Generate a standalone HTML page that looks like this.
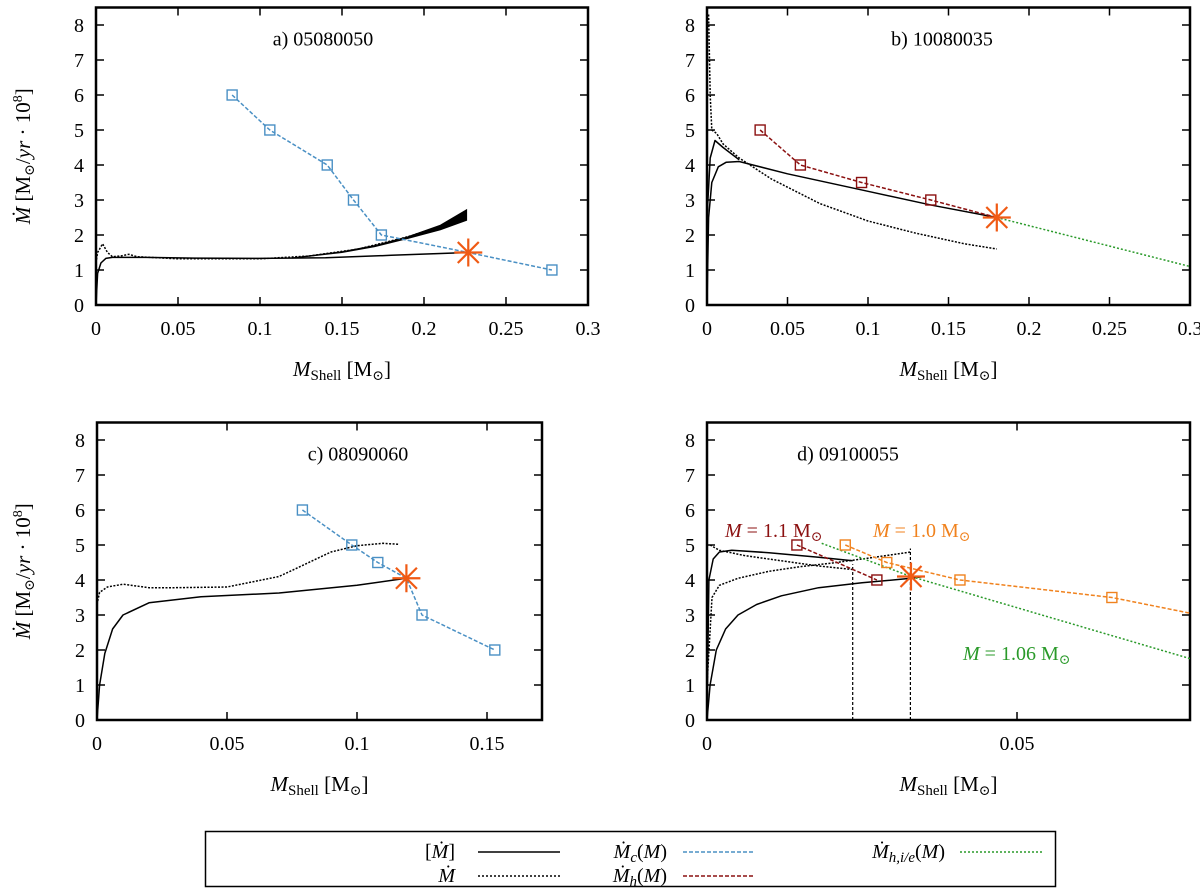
<!DOCTYPE html>
<html><head><meta charset="utf-8"><style>
html,body{margin:0;padding:0;background:#fff;}
svg{display:block;font-family:"Liberation Serif","DejaVu Serif",serif;}
</style></head><body>
<svg id="fig" width="1200" height="891" viewBox="0 0 1200 891" xmlns="http://www.w3.org/2000/svg">
<g id="g"></g>
<g>
 <rect x="205.5" y="831.5" width="850" height="55" fill="#fff" stroke="#000" stroke-width="1.5"/>
 <text x="455" y="858" font-size="20" text-anchor="end">[<tspan font-style="italic">Ṁ</tspan>]</text>
 <line x1="478" y1="852" x2="560" y2="852" stroke="#000" stroke-width="1.5"/>
 <text x="455" y="882" font-size="20" text-anchor="end" font-style="italic">Ṁ</text>
 <line x1="478" y1="876" x2="560" y2="876" stroke="#000" stroke-width="1.5" stroke-dasharray="2,2"/>
 <text x="667" y="858" font-size="20" text-anchor="end"><tspan font-style="italic">Ṁ</tspan><tspan font-style="italic" font-size="15" dy="4">c</tspan><tspan dy="-4">(</tspan><tspan font-style="italic">M</tspan>)</text>
 <line x1="683" y1="852" x2="755" y2="852" stroke="#4a90c4" stroke-width="1.5" stroke-dasharray="4,2"/>
 <text x="667" y="882" font-size="20" text-anchor="end"><tspan font-style="italic">Ṁ</tspan><tspan font-style="italic" font-size="15" dy="4">h</tspan><tspan dy="-4">(</tspan><tspan font-style="italic">M</tspan>)</text>
 <line x1="683" y1="876" x2="755" y2="876" stroke="#8b1010" stroke-width="1.5" stroke-dasharray="4,2"/>
 <text x="945" y="858" font-size="20" text-anchor="end"><tspan font-style="italic">Ṁ</tspan><tspan font-style="italic" font-size="15" dy="4">h,i/e</tspan><tspan dy="-4">(</tspan><tspan font-style="italic">M</tspan>)</text>
 <line x1="960" y1="852" x2="1042" y2="852" stroke="#2a9a2a" stroke-width="1.5" stroke-dasharray="2,2"/>
</g>
</svg>
<script>
// ---- data (top level) ----
const yTicks = [0,1,2,3,4,5,6,7,8];
const aXTicks = [0,0.05,0.1,0.15,0.2,0.25,0.3];
const bXTicks = [0,0.05,0.1,0.15,0.2,0.25,0.3];
const cXTicks = [0,0.05,0.1,0.15];
const dXTicks = [0,0.05];
// panel a
const aCX = [0.083,0.106,0.141,0.157,0.174,0.227,0.278];
const aCY = [6,5,4,3,2,1.5,1];
const aSolidX = [0,0.001,0.003,0.006,0.01,0.03,0.06,0.1,0.14,0.18,0.227];
const aSolidY = [0,0.9,1.2,1.33,1.36,1.36,1.34,1.33,1.35,1.42,1.5];
const aDotX = [0,0.001,0.004,0.007,0.01,0.015,0.02,0.025,0.05,0.1,0.13,0.16,0.19,0.21,0.226];
const aDotY = [1.2,1.5,1.75,1.5,1.38,1.4,1.45,1.38,1.32,1.32,1.4,1.6,1.95,2.25,2.6];
const aBandX = [0.12,0.15,0.17,0.19,0.21,0.226];
const aBandLoY = [1.34,1.5,1.67,1.9,2.15,2.42];
const aBandHiY = [1.35,1.52,1.7,1.95,2.28,2.72];
const aStar = [0.227,1.5];
// panel b
const bHX = [0.033,0.058,0.096,0.139,0.18];
const bHY = [5,4,3.5,3,2.5];
const bGX = [0.18,0.3];
const bGY = [2.5,1.1];
const bSolidX = [0,0.001,0.003,0.007,0.012,0.02,0.05,0.1,0.14,0.18];
const bSolidY = [0,2.5,3.5,3.95,4.08,4.1,3.75,3.25,2.85,2.5];
const bDotX = [0.001,0.002,0.003,0.006,0.01,0.02,0.04,0.07,0.1,0.13,0.16,0.18];
const bDotY = [8.3,6,5,4.9,4.6,4.2,3.6,2.9,2.4,2.05,1.75,1.6];
const bFanX = [0,0.002,0.005,0.01,0.02];
const bFanY = [2.5,4.2,4.7,4.5,4.15];
const bStar = [0.18,2.5];
// panel c
const cCX = [0.079,0.098,0.108,0.119,0.125,0.153];
const cCY = [6,5,4.5,4.05,3,2];
const cSolidX = [0,0.001,0.003,0.006,0.01,0.02,0.04,0.07,0.1,0.119];
const cSolidY = [0,1,1.9,2.6,3,3.35,3.52,3.63,3.85,4.05];
const cDotX = [0,0.001,0.004,0.01,0.02,0.03,0.05,0.07,0.08,0.09,0.1,0.11,0.116];
const cDotY = [3.3,3.65,3.8,3.88,3.78,3.78,3.8,4.1,4.45,4.8,4.98,5.05,5.02];
const cStar = [0.119,4.05];
// panel d
const dHX = [0.0145,0.0274];
const dHY = [5,4];
const dOX = [0.0223,0.029,0.0408,0.0653,0.078];
const dOY = [5,4.5,4,3.5,3.05];
const dGX = [0.0185,0.0329,0.078];
const dGY = [5.05,4.1,1.75];
const dSolid1X = [0,0.0003,0.001,0.002,0.004,0.01,0.018,0.0235];
const dSolid1Y = [0,4,4.6,4.8,4.85,4.78,4.65,4.55];
const dSolid2X = [0,0.0005,0.0015,0.003,0.005,0.008,0.012,0.018,0.025,0.0329,0.035];
const dSolid2Y = [0,1,2,2.6,3,3.3,3.55,3.78,3.92,4.05,4.1];
const dDot1X = [0.0005,0.002,0.006,0.012,0.018,0.0235];
const dDot1Y = [5,4.85,4.7,4.55,4.4,4.3];
const dDot2X = [0,0.0008,0.002,0.005,0.01,0.015,0.02,0.027,0.0329];
const dDot2Y = [1,3.5,3.85,4.05,4.25,4.38,4.48,4.65,4.8];
const dVLineX = [0.0235,0.0328];
const dVLineTop = [4.45,4.9];
const dStar = [0.0329,4.1];

const NS='http://www.w3.org/2000/svg';
const root=document.getElementById('g');
function mk(tag,attrs,parent){const e=document.createElementNS(NS,tag);for(const k in attrs)e.setAttribute(k,attrs[k]);(parent||root).appendChild(e);return e;}

function panel(name,L,R,B,xmax,xticks,title,tx){
  const T=B-35*8.5;
  const g=mk('g',{});
  
  
  const sx=v=>L+(R-L)*v/xmax, sy=v=>B-35*v;
  yTicks.forEach(v=>{
    const y=sy(v);
    const t=mk('path',{d:`M${L},${y}h8M${R},${y}h-8`,stroke:'#000','stroke-width':1.5},g);
    
    
    const l=mk('text',{x:L-12,y:y+7,'font-size':20,'text-anchor':'end'},g);
    
    
    l.textContent=v;
  });
  xticks.forEach(v=>{
    const x=sx(v);
    const t=mk('path',{d:`M${x},${B}v-8M${x},${T}v8`,stroke:'#000','stroke-width':1.5},g);
    
    
    const l=mk('text',{x:x,y:B+30,'font-size':20,'text-anchor':'middle'},g);
    
    
    l.textContent=v;
  });
  const fr=mk('rect',{x:L,y:T,width:R-L,height:B-T,fill:'none',stroke:'#000','stroke-width':2.5},g);
  
  
  const tt=mk('text',{x:tx,y:T+38,'font-size':20,'text-anchor':'middle'},g);
  
  
  tt.textContent=title;
  const xl=mk('text',{x:(L+R)/2,y:B+71,'font-size':21,'text-anchor':'middle'},g);
  
  
  xl.innerHTML='<tspan font-style="italic">M</tspan><tspan font-size="15" dy="4">Shell</tspan><tspan dy="-4"> [M</tspan><tspan font-size="14" dy="4">⊙</tspan><tspan dy="-4">]</tspan>';
  if(L<200){
    const yl=mk('text',{transform:`translate(30,${(T+B)/2}) rotate(-90)`,'font-size':21,'text-anchor':'middle'},g);
    
    
    yl.innerHTML='<tspan font-style="italic">Ṁ</tspan> [M<tspan font-size="14" dy="4">⊙</tspan><tspan dy="-4">/</tspan><tspan font-style="italic">yr</tspan> · 10<tspan font-size="14" dy="-8">8</tspan><tspan dy="8">]</tspan>';
  }
  return {g,sx,sy};
}
function line(p,xs,ys,color,dash,name,w){
  const d=xs.map((x,i)=>(i?'L':'M')+p.sx(x).toFixed(1)+','+p.sy(ys[i]).toFixed(1)).join('');
  const e=mk('path',{d,fill:'none',stroke:color,'stroke-width':w||1.5,'stroke-dasharray':dash||'none','stroke-linejoin':'round'},p.g);
  
  
}
function band(p,xs,lo,hi,name){
  const d=xs.map((x,i)=>(i?'L':'M')+p.sx(x).toFixed(1)+','+p.sy(lo[i]).toFixed(1)).join('')+
    xs.slice().reverse().map((x,i)=>'L'+p.sx(x).toFixed(1)+','+p.sy(hi[xs.length-1-i]).toFixed(1)).join('')+'Z';
  const e=mk('path',{d,fill:'#000',stroke:'#000','stroke-width':1},p.g);
  
  
}
function squares(p,xs,ys,color,name,skip){
  xs.forEach((x,i)=>{
    if(skip&&skip(x))return;
    const r=mk('rect',{x:p.sx(x)-5,y:p.sy(ys[i])-5,width:10,height:10,fill:'none',stroke:color,'stroke-width':1.4},p.g);
    
    
  });
}
function star(p,pt){
  const x=p.sx(pt[0]),y=p.sy(pt[1]),r=14;
  const e=mk('path',{d:`M${x-r},${y}h${2*r}M${x},${y-r}v${2*r}M${x-r*0.75},${y-r*0.75}l${1.5*r},${1.5*r}M${x-r*0.75},${y+r*0.75}l${1.5*r},${-1.5*r}`,stroke:'#f05a14','stroke-width':2.2},p.g);
  
  
}
const BLUE='#4a90c4',RED='#8b1010',ORANGE='#f0821e',GREEN='#2a9a2a';
// a
const pa=panel('panel-a',96,588,305,0.3,aXTicks,'a) 05080050',323);
line(pa,aDotX,aDotY,'#000','2,1.5','mdot-dotted');
band(pa,aBandX,aBandLoY,aBandHiY,'mdot-band');
line(pa,aSolidX,aSolidY,'#000','','mdot-avg-solid');
line(pa,aCX,aCY,BLUE,'4,2','mdot-c-line');
squares(pa,aCX,aCY,BLUE,'mdot-c-point',x=>x===aStar[0]);
star(pa,aStar);
// b
const pb=panel('panel-b',707,1190,305,0.3,bXTicks,'b) 10080035',942);
line(pb,bDotX,bDotY,'#000','2,1.5','mdot-dotted');
line(pb,bFanX,bFanY,'#000','','mdot-fan');
line(pb,bSolidX,bSolidY,'#000','','mdot-avg-solid');
line(pb,bGX,bGY,GREEN,'2,2','mdot-hie-line');
line(pb,bHX,bHY,RED,'4,2','mdot-h-line');
squares(pb,bHX,bHY,RED,'mdot-h-point',x=>x===bStar[0]);
star(pb,bStar);
// c
const pc=panel('panel-c',97,542,720,0.17115,cXTicks,'c) 08090060',358);
line(pc,cDotX,cDotY,'#000','2,1.5','mdot-dotted');
line(pc,cSolidX,cSolidY,'#000','','mdot-avg-solid');
line(pc,cCX,cCY,BLUE,'4,2','mdot-c-line');
squares(pc,cCX,cCY,BLUE,'mdot-c-point',x=>x===cStar[0]);
star(pc,cStar);
// d
const pd=panel('panel-d',707,1190,720,0.0779,dXTicks,'d) 09100055',848);
dVLineX.forEach((x,i)=>line(pd,[x,x],[0,dVLineTop[i]],'#000','3,2','vertical-marker',1.2));
line(pd,dDot1X,dDot1Y,'#000','2,1.5','mdot-dotted-upper');
line(pd,dDot2X,dDot2Y,'#000','2,1.5','mdot-dotted-lower');
line(pd,dSolid1X,dSolid1Y,'#000','','mdot-avg-upper');
line(pd,dSolid2X,dSolid2Y,'#000','','mdot-avg-lower');
line(pd,dGX,dGY,GREEN,'2,2','mdot-hie-line');
line(pd,dOX,dOY,ORANGE,'4,2','mdot-h-orange-line');
line(pd,dHX,dHY,RED,'4,2','mdot-h-red-line');
squares(pd,dOX,dOY,ORANGE,'mdot-h-orange-point',x=>x===0.078);
squares(pd,dHX,dHY,RED,'mdot-h-red-point');
star(pd,dStar);
[['M = 1.1 M','⊙',725,537,RED,'label-m-1-1'],['M = 1.0 M','⊙',873,537,ORANGE,'label-m-1-0'],['M = 1.06 M','⊙',963,660,GREEN,'label-m-1-06']].forEach(a=>{
  const t=mk('text',{x:a[2],y:a[3],'font-size':20,fill:a[4]},pd.g);
  
  
  t.innerHTML='<tspan font-style="italic">M</tspan>'+a[0].slice(1)+'<tspan font-size="14" dy="4">'+a[1]+'</tspan>';
});
</script>
</body></html>
